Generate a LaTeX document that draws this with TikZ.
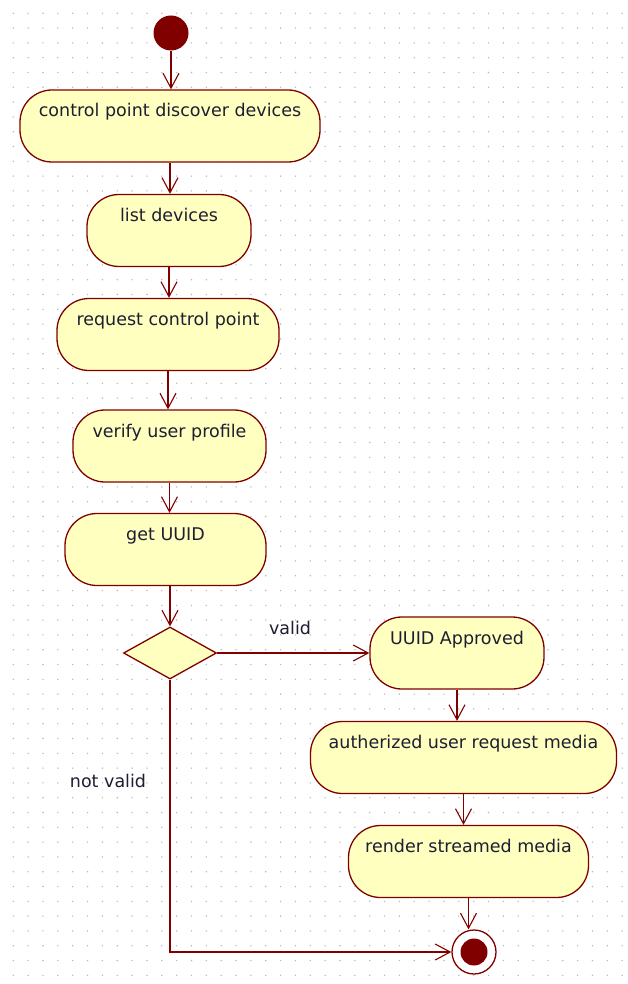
\documentclass[tikz,border=0pt]{standalone}
\usepackage{fontspec}
\setmainfont{DejaVu Sans}
\usepackage{xcolor}
\usepackage{tikz}
\usetikzlibrary{shapes,arrows.meta,positioning}
\definecolor{umlred}{RGB}{128,0,0}
\definecolor{umlfill}{RGB}{255,255,192}
\definecolor{umltext}{RGB}{30,30,50}
\definecolor{dotgray}{RGB}{185,185,185}

\begin{document}
\begin{tikzpicture}[x=1pt,y=-1pt,
  activity/.style={draw=umlred, fill=umlfill, line width=1.3pt,
    rounded corners=32pt, minimum width=#1, inner xsep=0pt, inner ysep=0pt,
    text height=27pt, text depth=45pt, text=umltext,
    font=\fontsize{17.5}{21}\selectfont},
  lbl/.style={text=umltext, font=\fontsize{17.5}{21}\selectfont},
  flow/.style={draw=umlred, line width=1.3pt,
    -{Straight Barb[length=15pt,width=16pt,line width=1.1pt]}}]
\useasboundingbox (0,0) rectangle (627,984);
\fill[white] (0,0) rectangle (627,984);
% dotted grid
\foreach \i in {0,...,41}
  \foreach \j in {0,...,65}
    \fill[dotgray] (13.3+\i*14.85, 13.3+\j*14.8) circle (0.8);

% start and end
\node[circle, fill=umlred, minimum size=35pt, inner sep=0pt] (start) at (171,33) {};
\node[circle, draw=umlred, line width=1.3pt, fill=white, minimum size=44pt, inner sep=0pt] (final) at (474,952) {};
\node[circle, fill=umlred, minimum size=27pt, inner sep=0pt] (finaldot) at (final) {};

% activities
\node[activity=300pt] (discover) at (170,126) {control point discover devices};
\node[activity=164pt] (list) at (169,230.5) {list devices};
\node[activity=222pt] (request) at (168,334.5) {request control point};
\node[activity=193pt] (verify) at (169.5,446) {verify user profile};
\node[activity=201pt] (getuuid) at (165.5,549.5) {get UUID};
\node[diamond, draw=umlred, fill=umlfill, line width=1.3pt, minimum width=93pt, minimum height=52pt, inner sep=0pt] (check) at (170,653) {};
\node[activity=174pt] (approved) at (457,653) {UUID Approved};
\node[activity=306pt] (media) at (463.5,757.5) {autherized user request media};
\node[activity=240pt] (render) at (468.5,861.5) {render streamed media};

% guards
\node[lbl] (valid) at (290,628) {valid};
\node[lbl] (notvalid) at (108,781) {not valid};

% flows
\draw[flow] (start) -- (start |- discover.north);
\draw[flow] (discover.south) -- (discover.south |- list.north);
\draw[flow] (list.south) -- (list.south |- request.north);
\draw[flow] (request.south) -- (request.south |- verify.north);
\draw[flow] (verify.south) -- (verify.south |- getuuid.north);
\draw[flow] (check |- getuuid.south) -- (check.north);
\draw[flow] (check.east) -- (approved.west);
\draw[flow] (approved.south) -- (approved.south |- media.north);
\draw[flow] (media.south) -- (media.south |- render.north);
\draw[flow] (render.south) -- (render.south |- final.north);
\draw[flow] (check.south) |- (final.west);

\end{tikzpicture}
\end{document}
